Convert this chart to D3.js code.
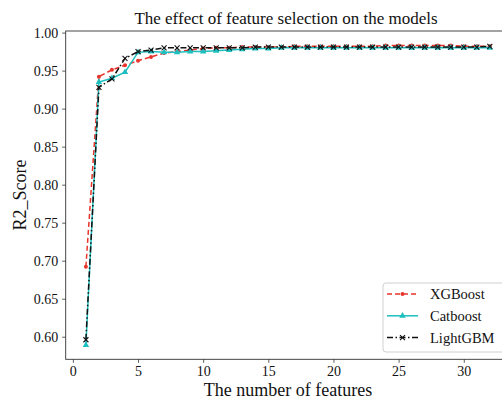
<!DOCTYPE html>
<html>
<head>
<meta charset="utf-8">
<script src="https://cdn.jsdelivr.net/npm/d3@7"></script>
<style>
  body { margin: 0; background: #fff; }
  text { font-family: "Liberation Serif", "Times New Roman", serif; fill: #111; }
</style>
</head>
<body>
<script>
// chart size
const width = 502;
const height = 402;

// number of features on the x axis
const features = d3.range(1, 33);

// R2 scores
const xgboost = [0.692, 0.942, 0.951, 0.957, 0.963, 0.968, 0.973, 0.975, 0.977, 0.979,
                 0.980, 0.980, 0.981, 0.981, 0.981, 0.981, 0.982, 0.982, 0.982, 0.982,
                 0.982, 0.982, 0.982, 0.983, 0.983, 0.983, 0.983, 0.983, 0.983, 0.982,
                 0.982, 0.982];
const catboost = [0.589, 0.935, 0.940, 0.948, 0.974, 0.975, 0.974, 0.974, 0.975, 0.975,
                  0.976, 0.977, 0.978, 0.979, 0.979, 0.980, 0.980, 0.980, 0.980, 0.980,
                  0.980, 0.980, 0.980, 0.980, 0.980, 0.980, 0.980, 0.980, 0.980, 0.980,
                  0.980, 0.980];
const lightgbm = [0.596, 0.928, 0.939, 0.966, 0.975, 0.977, 0.980, 0.980, 0.980, 0.980,
                  0.980, 0.980, 0.980, 0.981, 0.981, 0.981, 0.981, 0.981, 0.981, 0.981,
                  0.981, 0.981, 0.981, 0.981, 0.981, 0.981, 0.981, 0.981, 0.981, 0.981,
                  0.981, 0.982];

const xTicks = [0, 5, 10, 15, 20, 25, 30];
const yTicks = [0.60, 0.65, 0.70, 0.75, 0.80, 0.85, 0.90, 0.95, 1.00];

const series = [
  {name: "XGBoost", values: xgboost, color: "#e8352b", dash: "5,3", marker: "dot"},
  {name: "Catboost", values: catboost, color: "#1dbfbf", dash: null, marker: "triangle"},
  {name: "LightGBM", values: lightgbm, color: "#111111", dash: "6,2.5,1.5,2.5", marker: "cross"}
];

// plot area (right side runs past the picture edge, like the original crop)
const plotLeft = 65.7, plotTop = 31, plotBottom = 359.3;
const x = d3.scaleLinear().domain([-0.55, 33.55]).range([plotLeft, plotLeft + 34.1 * 13.03]);
const y = d3.scaleLinear().domain([0.5703, 1.0021]).range([plotBottom, plotTop]);

const svg = d3.select("body")
    .append("svg")
    .attr("width", width)
    .attr("height", height);

// axes
const xAxis = svg.append("g")
    .attr("transform", `translate(0,${plotBottom})`)
    .call(d3.axisBottom(x).tickValues(xTicks).tickSize(3.5).tickPadding(3).tickFormat(d3.format("d")));
const yAxis = svg.append("g")
    .attr("transform", `translate(${plotLeft},0)`)
    .call(d3.axisLeft(y).tickValues(yTicks).tickSize(3.5).tickPadding(4).tickFormat(d3.format(".2f")));

[xAxis, yAxis].forEach(a => {
  a.select(".domain").remove();
  a.selectAll(".tick line").attr("stroke", "#333").attr("stroke-width", 0.8);
  a.selectAll(".tick text").style("font-size", "14px").attr("fill", "#111");
});

// frame
svg.append("rect")
    .attr("x", plotLeft)
    .attr("y", plotTop)
    .attr("width", x.range()[1] - plotLeft)
    .attr("height", plotBottom - plotTop)
    .attr("fill", "none")
    .attr("stroke", "#333")
    .attr("stroke-width", 0.9);

const line = d3.line()
    .x((d, i) => x(features[i]))
    .y(d => y(d));

function drawMarker(g, kind, color, cx, cy) {
  if (kind === "dot") {
    g.append("circle").attr("cx", cx).attr("cy", cy).attr("r", 2).attr("fill", color);
  } else if (kind === "triangle") {
    g.append("path")
        .attr("d", d3.symbol().type(d3.symbolTriangle).size(18)())
        .attr("transform", `translate(${cx},${cy})`)
        .attr("fill", color);
  } else {
    g.append("path")
        .attr("d", `M${cx-2.5},${cy-2.5}L${cx+2.5},${cy+2.5}M${cx-2.5},${cy+2.5}L${cx+2.5},${cy-2.5}`)
        .attr("stroke", color)
        .attr("stroke-width", 1.1);
  }
}

series.forEach(s => {
  const g = svg.append("g");
  g.append("path")
      .datum(s.values)
      .attr("d", line)
      .attr("fill", "none")
      .attr("stroke", s.color)
      .attr("stroke-width", 1.5)
      .attr("stroke-dasharray", s.dash);
  s.values.forEach((v, i) => drawMarker(g, s.marker, s.color, x(features[i]), y(v)));
});

// title and axis labels
svg.append("text")
    .attr("x", 286)
    .attr("y", 24)
    .attr("text-anchor", "middle")
    .style("font-size", "17px")
    .text("The effect of feature selection on the models");

svg.append("text")
    .attr("x", 288)
    .attr("y", 396)
    .attr("text-anchor", "middle")
    .style("font-size", "18px")
    .text("The number of features");

svg.append("text")
    .attr("transform", "translate(26,195) rotate(-90)")
    .attr("text-anchor", "middle")
    .style("font-size", "18px")
    .text("R2_Score");

// legend
const legend = svg.append("g");
legend.append("rect")
    .attr("x", 383)
    .attr("y", 283)
    .attr("width", 140)
    .attr("height", 69)
    .attr("rx", 3)
    .attr("fill", "#fff")
    .attr("fill-opacity", 0.8)
    .attr("stroke", "#d0d0d0");

series.forEach((s, i) => {
  const ly = 294 + i * 21.8;
  legend.append("line")
      .attr("x1", 387).attr("x2", 418)
      .attr("y1", ly).attr("y2", ly)
      .attr("stroke", s.color)
      .attr("stroke-width", 1.5)
      .attr("stroke-dasharray", s.dash);
  drawMarker(legend, s.marker, s.color, 402.5, ly);
  legend.append("text")
      .attr("x", 430)
      .attr("y", ly + 5)
      .style("font-size", "14.5px")
      .text(s.name);
});
</script>
</body>
</html>
